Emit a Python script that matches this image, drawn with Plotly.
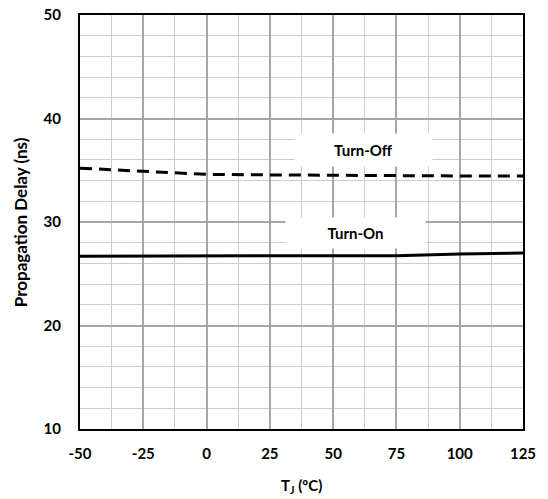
import plotly.graph_objects as go

# Junction temperature (°C)
temp_c = [-50, -25, 0, 25, 50, 75, 100, 125]
# Propagation delay (ns)
turn_off_ns = [35.2, 34.9, 34.6, 34.55, 34.5, 34.5, 34.45, 34.45]
turn_on_ns = [26.7, 26.7, 26.75, 26.75, 26.75, 26.75, 26.9, 27.0]

x_ticks = [-50, -25, 0, 25, 50, 75, 100, 125]
x_tick_text = ["-50", "-25", "0", "25", "50", "75", "100", "125"]
y_ticks = [10, 20, 30, 40, 50]

FONT = "Lato"

fig = go.Figure()
fig.add_trace(go.Scatter(x=temp_c, y=turn_off_ns, mode="lines", name="Turn-Off",
                         line=dict(color="black", width=3, dash="12px,7px")))
fig.add_trace(go.Scatter(x=temp_c, y=turn_on_ns, mode="lines", name="Turn-On",
                         line=dict(color="black", width=3)))

axis_common = dict(
    showline=True, linecolor="black", linewidth=2, mirror=True,
    showgrid=True, gridcolor="#a6a6a6", gridwidth=1.5,
    zeroline=False, ticks="", automargin=False,
    tickfont=dict(family=FONT, size=15, color="black", weight="bold"),
)

fig.update_xaxes(range=[-50, 125], tickvals=x_ticks, ticktext=x_tick_text,
                 ticklabelstandoff=10,
                 minor=dict(dtick=12.5, showgrid=True, gridcolor="#cccccc", gridwidth=1),
                 **axis_common)
fig.update_yaxes(range=[10, 50], tickvals=y_ticks, ticklabelstandoff=14,
                 minor=dict(dtick=2, showgrid=True, gridcolor="#cccccc", gridwidth=1),
                 **axis_common)

label_font = dict(family=FONT, size=15, color="black", weight="bold")
fig.add_annotation(x=62, y=37, xref="x", yref="y", text="Turn-Off", showarrow=False,
                   bgcolor="white", width=137, height=32, borderpad=0, font=label_font)
fig.add_annotation(x=59, y=28.9, xref="x", yref="y", text="Turn-On", showarrow=False,
                   bgcolor="white", width=139, height=30, borderpad=0, font=label_font)

# Axis titles
fig.add_annotation(x=-0.135, y=0.5, xref="paper", yref="paper",
                   text="Propagation Delay (ns)", showarrow=False, textangle=-90,
                   xanchor="center", yanchor="middle",
                   font=dict(family=FONT, size=17, color="black", weight="bold"))
fig.add_annotation(x=0.5, y=-0.138, xref="paper", yref="paper",
                   text="T<sub>J</sub> (ºC)", showarrow=False,
                   xanchor="center", yanchor="middle",
                   font=dict(family=FONT, size=15, color="black", weight="bold"))

fig.update_layout(
    width=548, height=499,
    margin=dict(l=80, r=25, t=15, b=70),
    paper_bgcolor="white", plot_bgcolor="white",
    showlegend=False,
)

fig.write_html("out.html")
